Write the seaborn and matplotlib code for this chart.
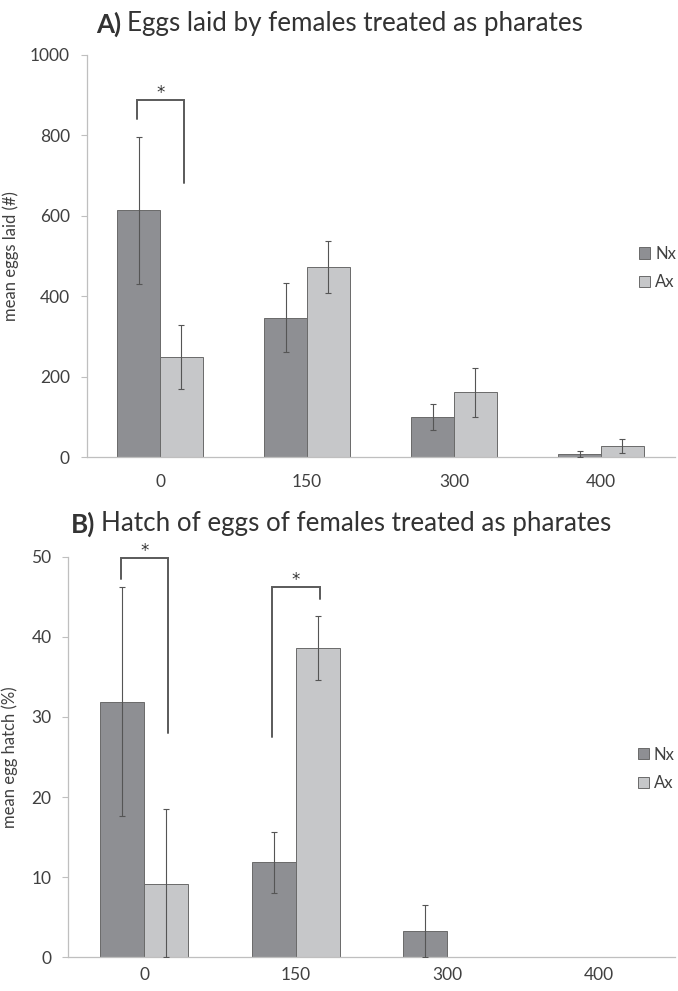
import numpy as np
import pandas as pd
import matplotlib
matplotlib.use("Agg")
import matplotlib.pyplot as plt
import seaborn as sns
from matplotlib.patches import Patch

# ---------------- data ----------------
doses = ["0", "150", "300", "400"]
groups = ["Nx", "Ax"]

eggs_nx = [614, 347, 99, 8]
eggs_ax = [249, 472, 161, 28]
eggs_nx_err = [183, 87, 32, 8]
eggs_ax_err = [79, 65, 61, 17]

hatch_nx = [31.9, 11.85, 3.25, 0]
hatch_ax = [9.2, 38.6, 0, 0]
hatch_nx_err = [14.3, 3.85, 3.25, 0]
hatch_ax_err = [9.3, 4.05, 0, 0]

# significance brackets: (category index, left low, top, right low)
sig_eggs = [(0, 840, 888, 682)]
sig_hatch = [(0, 47.2, 49.8, 28.0), (1, 27.5, 46.2, 44.7)]

# ---------------- style ----------------
sns.set_theme(style="white")
plt.rcParams["font.family"] = ["Lato", "DejaVu Sans"]
C_NX = "#8e8f93"
C_AX = "#c6c7c9"
EDGE = "#6a6a6a"
AXC = "#bfbfbf"
TXT = "#404040"
ERR = "#555555"

W, H = 678, 991
fig = plt.figure(figsize=(W / 100, H / 100), dpi=100)


def fx(px):
    return px / W


def fy(py):
    return 1 - py / H


def panel(rect, nx, axv, nx_err, ax_err, ymax, ystep, ylabel, sigs, ylab_x, xpad):
    ax = fig.add_axes(rect)
    df = pd.DataFrame({
        "dose": doses * 2,
        "group": [groups[0]] * len(doses) + [groups[1]] * len(doses),
        "value": list(nx) + list(axv),
    })
    sns.barplot(data=df, x="dose", y="value", hue="group", order=doses,
                hue_order=groups, palette=[C_NX, C_AX], width=0.58,
                errorbar=None, edgecolor=EDGE, linewidth=0.7, saturation=1,
                legend=False, ax=ax)
    centers = []
    for cont, vals, errs in zip(ax.containers, [nx, axv], [nx_err, ax_err]):
        xs = np.array([p.get_x() + p.get_width() / 2 for p in cont.patches])
        centers.append(xs)
        vals = np.array(vals, float)
        errs = np.array(errs, float)
        m = errs > 0
        lower = np.minimum(errs, vals)
        ax.errorbar(xs[m], vals[m], yerr=[lower[m], errs[m]], fmt="none",
                    ecolor=ERR, elinewidth=0.8, capsize=2.5, capthick=0.8,
                    zorder=5)
    # brackets
    for (ci, ylo_l, ytop, ylo_r) in sigs:
        xl = centers[0][ci] - 0.01
        xr = centers[1][ci] + 0.015
        ax.plot([xl, xl, xr, xr], [ylo_l, ytop, ytop, ylo_r], color="#5a5a5a",
                lw=1.4, solid_joinstyle="miter", zorder=6)
        ax.text((xl + xr) / 2, ytop - ymax * 0.004, "*", ha="center",
                va="bottom", fontsize=12, color="#333333",
                family=["DejaVu Sans"])

    ax.set_xlim(-0.5, len(doses) - 0.5)
    ax.set_ylim(0, ymax)
    ax.set_yticks(np.arange(0, ymax + ystep / 2, ystep))
    ax.set_xticks(range(len(doses)))
    ax.set_xticklabels(doses)
    ax.set_xticks(np.arange(-0.5, len(doses), 1.0), minor=True)
    ax.tick_params(axis="x", which="major", length=0, labelsize=12.5,
                   labelcolor=TXT, pad=xpad)
    ax.tick_params(axis="x", which="minor", length=5, color=AXC, width=0.8,
                   direction="out")
    ax.tick_params(axis="y", length=4, color=AXC, width=0.8, labelsize=12.5,
                   labelcolor=TXT, pad=8, left=True)
    for s in ["top", "right"]:
        ax.spines[s].set_visible(False)
    for s in ["left", "bottom"]:
        ax.spines[s].set_color(AXC)
        ax.spines[s].set_linewidth(0.9)
    ax.set_xlabel("")
    ax.set_ylabel(ylabel, fontsize=12, color=TXT)
    ax.yaxis.set_label_coords(ylab_x, 0.5)
    ax.grid(False)

    handles = [Patch(facecolor=C_NX, edgecolor=EDGE, linewidth=0.7, label=groups[0]),
               Patch(facecolor=C_AX, edgecolor=EDGE, linewidth=0.7, label=groups[1])]
    leg = ax.legend(handles=handles, loc="center left",
                    bbox_to_anchor=(0.94, 0.47), frameon=False, fontsize=12,
                    handlelength=0.65, handleheight=0.65, handletextpad=0.3,
                    labelspacing=0.75, borderaxespad=0, borderpad=0)
    for t in leg.get_texts():
        t.set_color(TXT)
    return ax


# top panel: axes from x 86.5..674.5, y 55..457
axA = panel([fx(86.5), fy(457), fx(674.5) - fx(86.5), fy(55) - fy(457)],
            eggs_nx, eggs_ax, eggs_nx_err, eggs_ax_err, 1000, 200,
            "mean eggs laid (#)", sig_eggs, -0.115, 12)

# bottom panel: axes from x 68.3..674.5, y 556.7..957.3
axB = panel([fx(68.3), fy(957.3), fx(674.5) - fx(68.3), fy(556.7) - fy(957.3)],
            hatch_nx, hatch_ax, hatch_nx_err, hatch_ax_err, 50, 10,
            "mean egg hatch (%)", sig_hatch, -0.083, 7)


def title(x_px, y_px, bold, rest, size):
    t1 = fig.text(fx(x_px), fy(y_px), bold, fontsize=size, fontweight="bold",
                  color="#333333", ha="left", va="center")
    fig.canvas.draw()
    bb = t1.get_window_extent()
    fig.text(bb.x1 / W + 6 / W, fy(y_px), rest, fontsize=size, color="#333333",
             ha="left", va="center")


title(96, 24, "A)", "Eggs laid by females treated as pharates", 18.7)
title(71, 524, "B)", "Hatch of eggs of females treated as pharates", 18.7)

fig.savefig("out.png", dpi=100, facecolor="white")
